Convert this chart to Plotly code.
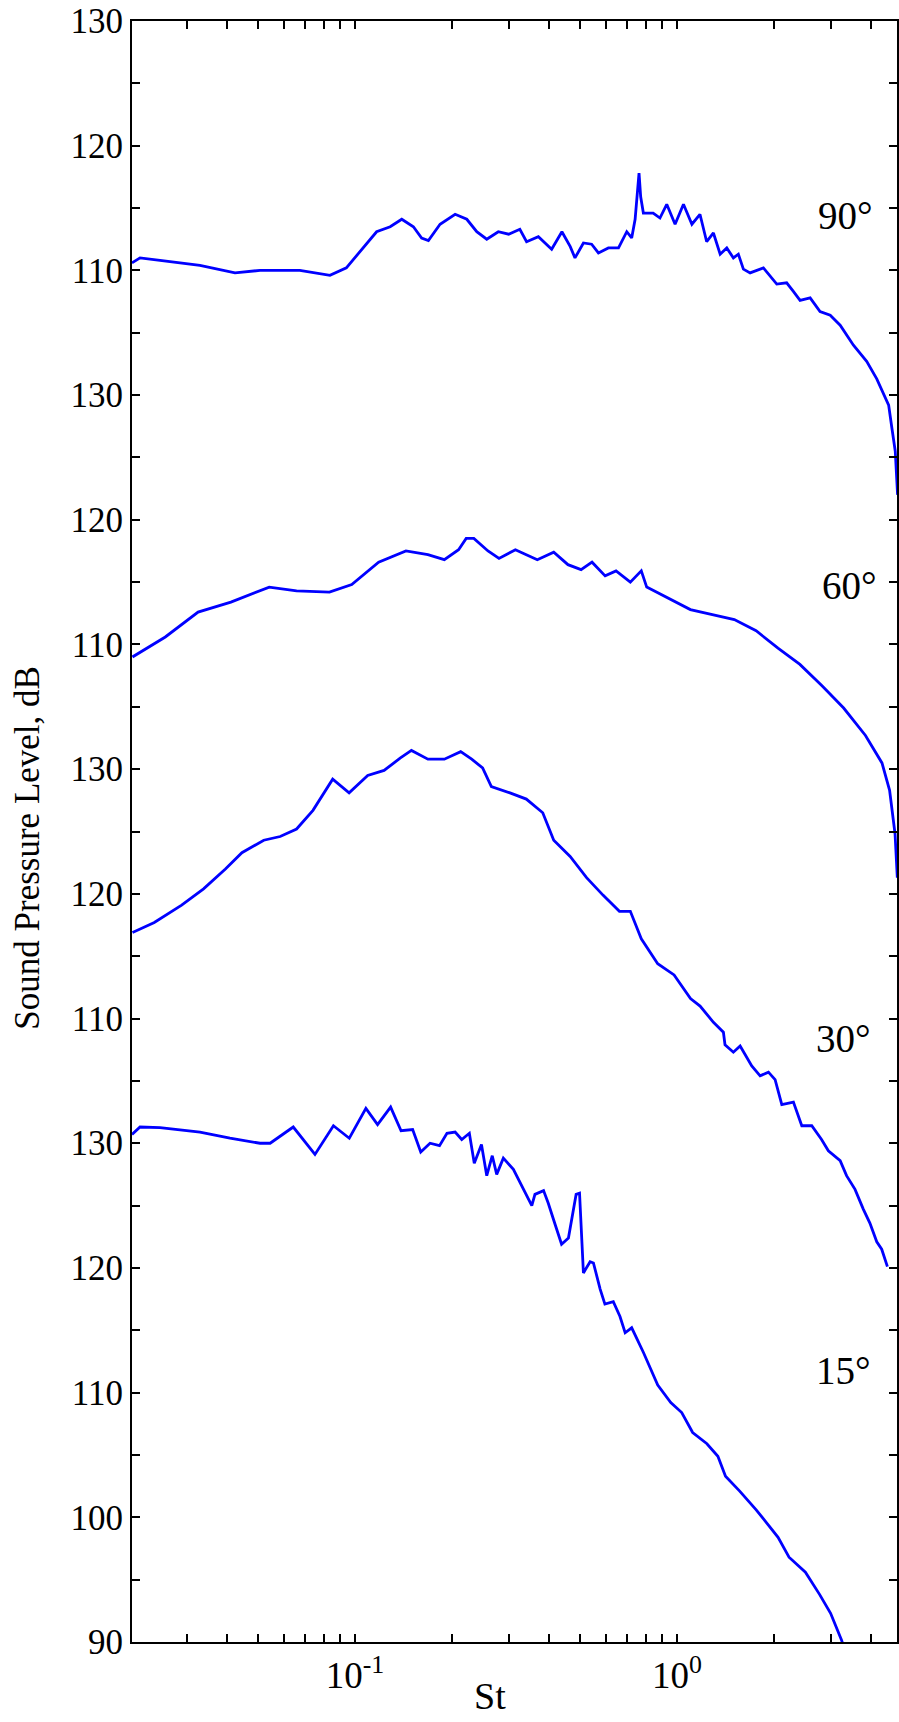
import numpy as np
import plotly.graph_objects as go

# ---------------- data (St, SPL dB) ----------------
st_90 = [0.0203, 0.0215, 0.0248, 0.033, 0.0424, 0.0507, 0.0674, 0.0836, 0.094, 0.106,
         0.1167, 0.1286, 0.1397, 0.1518, 0.161, 0.169, 0.1837, 0.2046, 0.2224, 0.2388,
         0.2565, 0.2786, 0.300, 0.325, 0.341, 0.371, 0.408, 0.439, 0.466, 0.482,
         0.512, 0.543, 0.570, 0.612, 0.658, 0.698, 0.723, 0.741, 0.750, 0.762,
         0.771, 0.786, 0.843, 0.885, 0.929, 0.986, 1.047, 1.112, 1.178, 1.236,
         1.297, 1.361, 1.427, 1.496, 1.550, 1.607, 1.686, 1.854, 2.04, 2.19,
         2.30, 2.41, 2.59, 2.78, 2.99, 3.21, 3.53, 3.88, 4.17, 4.38,
         4.54, 4.65, 4.76, 4.84]
spl_90 = [110.6, 111.0, 110.8, 110.4, 109.8, 110.0, 110.0, 109.6, 110.2, 111.8,
          113.1, 113.5, 114.1, 113.5, 112.6, 112.4, 113.7, 114.5, 114.1, 113.1,
          112.5, 113.1, 112.9, 113.3, 112.3, 112.7, 111.7, 113.1, 111.9, 111.0,
          112.2, 112.1, 111.4, 111.8, 111.8, 113.1, 112.6, 114.1, 115.5, 117.8,
          115.9, 114.6, 114.6, 114.2, 115.3, 113.7, 115.3, 113.7, 114.5, 112.3,
          113.0, 111.3, 111.8, 111.0, 111.3, 110.1, 109.8, 110.2, 108.9, 109.0,
          108.3, 107.6, 107.8, 106.7, 106.4, 105.6, 104.0, 102.7, 101.3, 100.0,
          99.2, 97.3, 95.5, 92.0]

st_60 = [0.02037, 0.02576, 0.03256, 0.04117, 0.05415, 0.06585, 0.0833, 0.0977, 0.1184, 0.1439,
         0.1684, 0.1894, 0.2097, 0.2214, 0.2339, 0.2588, 0.2800, 0.3148, 0.3404, 0.3682,
         0.4141, 0.4584, 0.5035, 0.5445, 0.5980, 0.6465, 0.7161, 0.7744, 0.8050, 0.942,
         1.100, 1.287, 1.506, 1.760, 2.058, 2.407, 2.814, 3.291, 3.847, 4.328,
         4.571, 4.753, 4.83]
spl_60 = [109.0, 110.6, 112.6, 113.4, 114.6, 114.3, 114.2, 114.8, 116.6, 117.5,
          117.2, 116.8, 117.6, 118.5, 118.5, 117.5, 116.9, 117.6, 117.2, 116.8,
          117.4, 116.4, 116.0, 116.6, 115.5, 115.9, 115.0, 115.9, 114.6, 113.7,
          112.8, 112.4, 112.0, 111.1, 109.7, 108.4, 106.7, 104.9, 102.7, 100.5,
          98.3, 94.8, 91.3]

st_30 = [0.02037, 0.02381, 0.02895, 0.03386, 0.03959, 0.04454, 0.05208, 0.05856, 0.06585, 0.07404,
         0.08524, 0.09587, 0.1095, 0.1231, 0.1384, 0.1497, 0.1684, 0.1894, 0.2129, 0.2303,
         0.2490, 0.2651, 0.3028, 0.3404, 0.3828, 0.4141, 0.4656, 0.5236, 0.5888, 0.6622,
         0.7161, 0.7744, 0.8708, 0.9791, 1.1009, 1.179, 1.297, 1.393, 1.409, 1.496,
         1.570, 1.706, 1.811, 1.922, 2.016, 2.115, 2.298, 2.44, 2.62, 2.81,
         2.95, 3.21, 3.36, 3.57, 3.79, 3.97, 4.17, 4.32, 4.50]
spl_30 = [116.9, 117.7, 119.1, 120.4, 122.0, 123.3, 124.3, 124.6, 125.2, 126.7,
          129.2, 128.1, 129.5, 129.9, 130.9, 131.5, 130.8, 130.8, 131.4, 130.8,
          130.1, 128.6, 128.1, 127.6, 126.5, 124.3, 123.0, 121.3, 119.9, 118.6,
          118.6, 116.4, 114.4, 113.5, 111.6, 111.0, 109.7, 108.9, 107.9, 107.3,
          107.8, 106.2, 105.4, 105.7, 105.1, 103.1, 103.3, 101.4, 101.4, 100.3,
          99.4, 98.6, 97.4, 96.3, 94.7, 93.6, 92.1, 91.5, 90.1]

st_15 = [0.0203, 0.0215, 0.0248, 0.033, 0.0409, 0.0507, 0.0545, 0.0643, 0.0751, 0.0857,
         0.096, 0.1081, 0.1175, 0.129, 0.139, 0.151, 0.160, 0.171, 0.183, 0.193,
         0.2046, 0.2145, 0.2265, 0.2346, 0.247, 0.2565, 0.2668, 0.2754, 0.2888, 0.3103,
         0.354, 0.362, 0.385, 0.398, 0.418, 0.438, 0.460, 0.476, 0.486, 0.498,
         0.506, 0.512, 0.537, 0.550, 0.577, 0.597, 0.634, 0.665, 0.690, 0.723,
         0.787, 0.871, 0.956, 1.034, 1.118, 1.238, 1.339, 1.414, 1.565, 1.761,
         1.905, 2.059, 2.227, 2.504, 2.773, 2.998, 3.243, 3.30]
spl_15 = [130.7, 131.3, 131.25, 130.9, 130.4, 130.0, 130.0, 131.3, 129.1, 131.4,
          130.4, 132.8, 131.5, 132.9, 131.0, 131.1, 129.3, 130.0, 129.8, 130.8,
          130.9, 130.3, 130.8, 128.4, 129.9, 127.4, 129.0, 127.5, 128.8, 127.9,
          125.0, 125.9, 126.2, 125.2, 123.5, 121.9, 122.4, 124.4, 125.9, 126.0,
          122.8, 119.6, 120.5, 120.4, 118.3, 117.1, 117.3, 116.1, 114.8, 115.2,
          113.2, 110.6, 109.2, 108.4, 106.8, 105.9, 104.9, 103.3, 102.1, 100.6,
          99.5, 98.4, 96.8, 95.6, 93.8, 92.3, 90.15, 89.5]

angle_labels = ["90°", "60°", "30°", "15°"]
ytick_labels = ["90", "100", "110", "120", "130",
                "110", "120", "130",
                "110", "120", "130",
                "110", "120", "130"]
xtick_major = [0.1, 1.0]
xtick_major_text = ["10<sup>-1</sup>", "10<sup>0</sup>"]

# ---------------- layout helpers ----------------
offsets = {"90°": 90, "60°": 60, "30°": 30, "15°": 0}
series = {"90°": (st_90, spl_90), "60°": (st_60, spl_60),
          "30°": (st_30, spl_30), "15°": (st_15, spl_15)}

FONT = "Liberation Serif"
fig = go.Figure()
for name in angle_labels:
    xs, ys = series[name]
    fig.add_trace(go.Scatter(x=xs, y=np.array(ys) + offsets[name], mode="lines",
                             line=dict(color="#0000FF", width=2.8),
                             showlegend=False, name=name))

# x minor ticks: every integer multiple within each decade
x_minor = []
for dec in [0.01, 0.1, 1.0]:
    for k in range(2, 10):
        v = round(k * dec, 6)
        if 0.02 <= v <= 4.8:
            x_minor.append(v)

y_major = list(range(90, 221, 10))
y_minor = list(range(95, 220, 10))

tick_style = dict(ticks="inside", ticklen=8, tickwidth=1.5, tickcolor="black")
axis_common = dict(showline=True, linecolor="black", linewidth=2, mirror="ticks",
                   showgrid=False, zeroline=False, automargin=False,
                   ticklabeloverflow="allow", **tick_style)

fig.update_layout(
    width=899, height=1722,
    margin=dict(l=132, r=2, t=21, b=80, autoexpand=False),
    paper_bgcolor="white", plot_bgcolor="white",
    font=dict(family=FONT, color="black"),
    xaxis=dict(type="log", range=[-1.6925, 0.683], tickmode="array",
               tickvals=xtick_major, ticktext=xtick_major_text,
               minor=dict(tickvals=x_minor, showgrid=False, **tick_style),
               tickfont=dict(family=FONT, size=37, color="black"), **axis_common),
    yaxis=dict(range=[90, 220], tickmode="array", tickvals=y_major,
               ticktext=ytick_labels,
               minor=dict(tickvals=y_minor, showgrid=False, **tick_style),
               tickfont=dict(family=FONT, size=35, color="black"), **axis_common),
)

# angle annotations (x in log10 units, y in stacked units)
ann_pos = {"90°": (0.522, 204.4), "60°": (0.534, 174.7),
           "30°": (0.517, 138.4), "15°": (0.516, 111.8)}
for name in angle_labels:
    ax, ay = ann_pos[name]
    fig.add_annotation(x=ax, y=ay, xref="x", yref="y", text=name, showarrow=False,
                       xanchor="center", yanchor="middle",
                       font=dict(family=FONT, size=39, color="black"))

# axis titles
fig.add_annotation(x=-0.136, y=0.49, xref="paper", yref="paper",
                   text="Sound Pressure Level, dB", textangle=-90, showarrow=False,
                   xanchor="center", yanchor="middle",
                   font=dict(family=FONT, size=35, color="black"))
fig.add_annotation(x=0.468, y=-0.0478, xref="paper", yref="paper", text="St",
                   showarrow=False, xanchor="center", yanchor="bottom",
                   font=dict(family=FONT, size=38, color="black"))

# remove the default 8px page margin so the figure fills the window exactly
fig.write_html("out.html", config={"displayModeBar": False},
               post_script="document.body.style.margin='0';document.body.style.overflow='hidden';")
